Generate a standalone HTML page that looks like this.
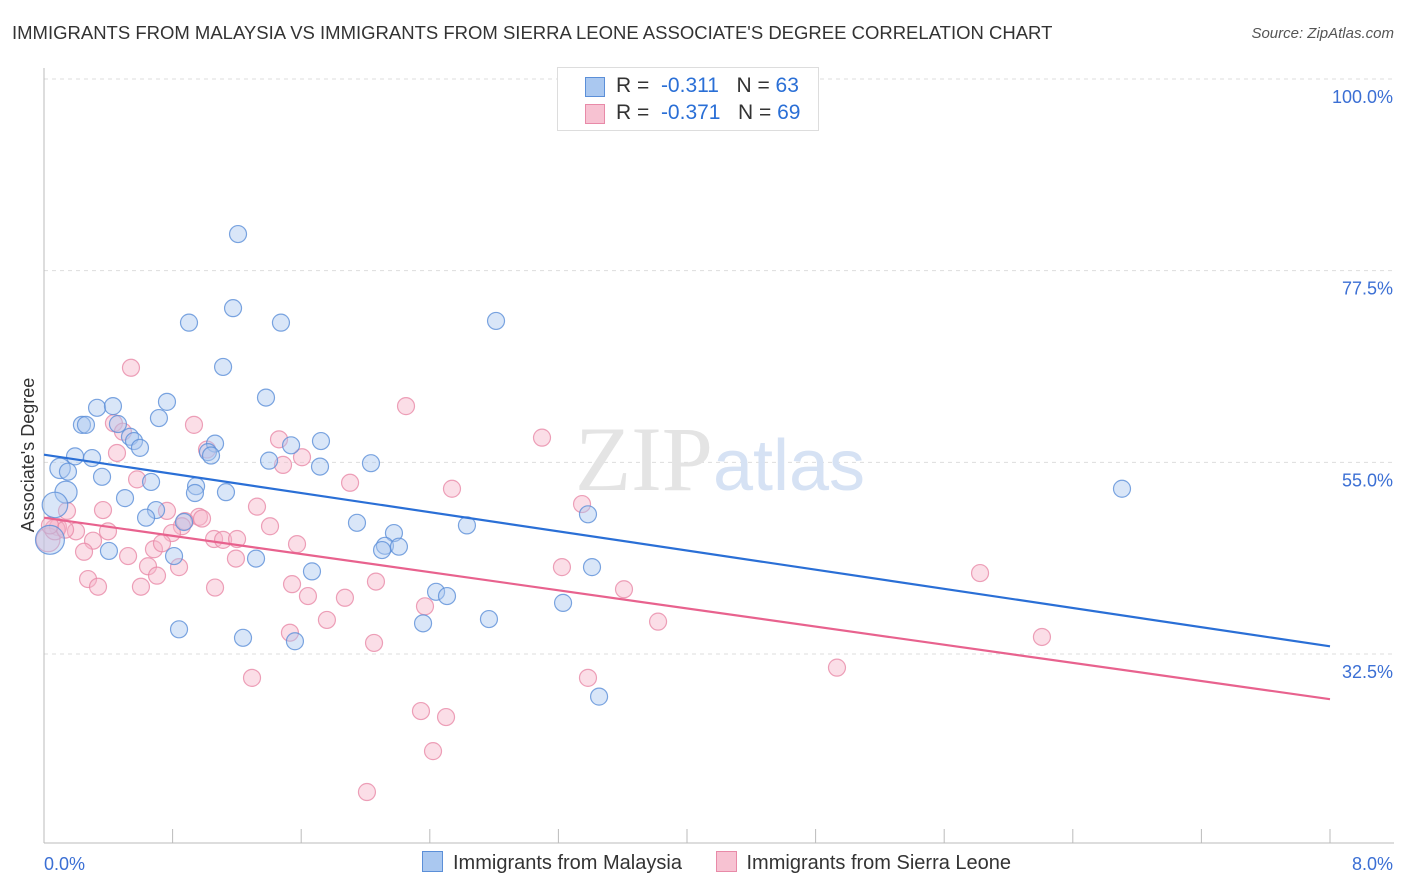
<!DOCTYPE html>
<html><head><meta charset="utf-8">
<style>
body{margin:0;background:#fff;font-family:"Liberation Sans",sans-serif;}
#wrap{position:relative;width:1406px;height:892px;overflow:hidden;}
.t{position:absolute;white-space:nowrap;}
</style></head>
<body>
<div id="wrap">
<div class="t" style="left:12px;top:22px;font-size:18.5px;color:#333;">IMMIGRANTS FROM MALAYSIA VS IMMIGRANTS FROM SIERRA LEONE ASSOCIATE'S DEGREE CORRELATION CHART</div>
<div class="t" style="right:12px;top:25px;font-size:15px;color:#555;font-style:italic;">Source: ZipAtlas.com</div>
<svg id="chart" width="1406" height="892" style="position:absolute;left:0;top:0"></svg>
</div>
<script>
const yTicks=[100,77.5,55,32.5];
const yTickLabels=["100.0%","77.5%","55.0%","32.5%"];
const xEndLabels=["0.0%","8.0%"];
const malaysiaX=[1.207,0.902,1.176,1.474,2.812,1.114,1.381,0.765,0.330,0.429,0.715,0.236,0.261,0.460,0.535,0.560,0.597,1.064,1.020,1.039,1.537,1.723,0.193,0.299,1.400,1.717,2.034,0.100,0.149,0.361,0.666,0.946,1.132,0.504,0.939,0.137,0.068,0.697,0.635,0.871,1.947,2.631,3.384,6.706,2.177,2.121,2.208,2.103,0.404,0.809,1.319,1.667,3.409,2.439,2.507,3.229,2.768,2.358,0.840,1.238,1.561,3.453,0.037];
const malaysiaY=[81.8,71.4,73.1,71.4,71.6,66.2,62.6,62.1,61.4,61.6,60.2,59.4,59.4,59.5,58.0,57.5,56.7,57.2,56.2,55.8,57.0,57.5,55.7,55.5,55.2,54.5,54.9,54.3,53.9,53.3,52.7,52.2,51.5,50.8,51.4,51.5,50.0,49.4,48.5,48.0,47.9,47.6,48.9,51.9,46.7,45.2,45.1,44.7,44.6,44.0,43.7,42.2,42.7,39.8,39.3,38.5,36.6,36.1,35.4,34.4,34.0,27.5,45.9];
const malaysiaSize=[1,1,1,1,1,1,1,1,1,1,1,1,1,1,1,1,1,1,1,1,1,1,1,1,1,1,1,1.2,1,1,1,1,1,1,1,1.3,1.5,1,1,1,1,1,1,1,1,1,1,1,1,1,1,1,1,1,1,1,1,1,1,1,1,1,1.7];
const leoneX=[0.541,2.252,3.098,0.933,0.435,0.491,1.462,1.014,0.454,1.605,1.487,1.904,2.538,0.579,3.347,0.143,0.367,0.765,0.964,0.983,1.325,0.877,0.858,1.406,0.087,0.199,0.796,0.398,1.058,1.114,1.201,1.574,0.305,0.684,0.734,0.249,0.523,1.194,0.647,0.840,3.222,0.703,0.274,5.823,0.336,0.603,1.064,1.543,2.065,3.608,1.642,1.872,2.370,1.760,3.820,1.530,6.208,2.053,4.933,1.294,3.384,2.345,2.501,2.420,2.009,0.025,0.068,0.131,0.037];
const leoneY=[66.1,61.6,57.9,59.4,59.6,58.6,57.7,56.5,56.1,55.6,54.7,52.6,51.9,53.0,50.1,49.3,49.4,49.3,48.6,48.4,49.8,48.1,47.5,47.5,47.4,46.9,46.7,46.9,46.0,45.9,46.0,45.4,45.8,44.8,45.5,44.5,44.0,43.7,42.8,42.7,42.7,41.7,41.3,42.0,40.4,40.4,40.3,40.7,41.0,40.1,39.3,39.1,38.1,36.5,36.3,35.0,34.5,33.8,30.9,29.7,29.7,25.8,25.1,21.1,16.3,45.9,47.1,47.1,47.6];
const leoneSize=[1,1,1,1,1,1,1,1,1,1,1,1,1,1,1,1,1,1,1,1,1,1,1,1,1,1,1,1,1,1,1,1,1,1,1,1,1,1,1,1,1,1,1,1,1,1,1,1,1,1,1,1,1,1,1,1,1,1,1,1,1,1,1,1,1,1.4,1.2,1,1];
const trendMalaysia=[55.9,33.4];
const trendLeone=[48.5,27.2];

const NS="http://www.w3.org/2000/svg";
const svg=document.getElementById('chart');
const X0=44,X1=1330;
function xs(v){return X0+(v/8)*(X1-X0);}
function ys(v){return 79+(100-v)/22.5*191.67;}
function mk(tag,attrs,parent){const e=document.createElementNS(NS,tag);for(const k in attrs)e.setAttribute(k,attrs[k]);(parent||svg).appendChild(e);return e;}

yTicks.forEach((t,i)=>{
  const g=mk('line',{x1:X0,x2:1394,y1:ys(t),y2:ys(t),stroke:'#ddd','stroke-dasharray':'4,4'});
  
  
  const l=mk('text',{x:1393,y:ys(t)+24,'text-anchor':'end','font-size':18,fill:'#3b6fd4','font-family':'Liberation Sans, sans-serif'});
  l.textContent=yTickLabels[i];
  
  
});
const ax=mk('line',{x1:X0,x2:X0,y1:68,y2:843,stroke:'#bbb'});


const bx=mk('line',{x1:X0,x2:1394,y1:843,y2:843,stroke:'#bbb'});


for(let i=0;i<=10;i++){
  const tk=mk('line',{x1:xs(i*0.8),x2:xs(i*0.8),y1:829,y2:843,stroke:'#bbb'});
  
  
}
[[0,'start'],[8,'end']].forEach((p,i)=>{
  const t=mk('text',{x:i?1393:44,y:870,'text-anchor':p[1],'font-size':18,fill:'#3b6fd4','font-family':'Liberation Sans, sans-serif'});
  t.textContent=xEndLabels[i];
  
  
});
const yt=mk('text',{x:34,y:455,transform:'rotate(-90 34 455)','text-anchor':'middle','font-size':18,fill:'#333','font-family':'Liberation Sans, sans-serif'});
yt.textContent="Associate's Degree";



const wm=mk('text',{x:720,y:490,'text-anchor':'middle','font-size':92,'font-family':'Liberation Serif, serif',fill:'#e4e4e4'});
wm.innerHTML='ZIP<tspan font-family="Liberation Sans, sans-serif" font-size="72" fill="#d6e2f4">atlas</tspan>';



function pts(X,Y,S,fill,stroke,name){
  X.forEach((x,i)=>{
    const c=mk('circle',{cx:xs(x),cy:ys(Y[i]),r:8.5*S[i],fill:fill,'fill-opacity':0.45,stroke:stroke,'stroke-width':1.2,'stroke-opacity':0.8});
    
    
  });
}
pts(leoneX,leoneY,leoneSize,'#f7b6c9','#e88aa8','point-sierra-leone');
pts(malaysiaX,malaysiaY,malaysiaSize,'#aac8f0','#5b8fd8','point-malaysia');
const tb=mk('line',{x1:xs(0),y1:ys(trendMalaysia[0]),x2:xs(8),y2:ys(trendMalaysia[1]),stroke:'#2a6fd6','stroke-width':2.2});


const tp=mk('line',{x1:xs(0),y1:ys(trendLeone[0]),x2:xs(8),y2:ys(trendLeone[1]),stroke:'#e8628e','stroke-width':2.2});


</script>
<div style="position:absolute;left:557px;top:67px;width:260px;height:62px;border:1px solid #ddd;background:#fff;font-size:21px;color:#333;">
  <div style="position:absolute;left:28px;top:6px;white-space:nowrap;"><span style="position:absolute;left:-1px;top:3px;width:18px;height:18px;background:#aac8f0;border:1px solid #5b8fd8;"></span><span style="margin-left:30px">R = &nbsp;<span style="color:#2a6fd6">-0.311</span> &nbsp;&nbsp;N = <span style="color:#2a6fd6">63</span></span></div>
  <div style="position:absolute;left:28px;top:33px;white-space:nowrap;"><span style="position:absolute;left:-1px;top:3px;width:18px;height:18px;background:#f7c2d2;border:1px solid #e88aa8;"></span><span style="margin-left:30px">R = &nbsp;<span style="color:#2a6fd6">-0.371</span> &nbsp;&nbsp;N = <span style="color:#2a6fd6">69</span></span></div>
</div>
<div style="position:absolute;left:422px;top:851px;font-size:20px;color:#333;white-space:nowrap;">
  <span><span style="display:inline-block;width:19px;height:19px;background:#aac8f0;border:1px solid #5b8fd8;vertical-align:-3px;margin-right:10px;"></span>Immigrants from Malaysia</span>
  <span style="margin-left:28px"><span style="display:inline-block;width:19px;height:19px;background:#f7c2d2;border:1px solid #e88aa8;vertical-align:-3px;margin-right:10px;"></span>Immigrants from Sierra Leone</span>
</div>
</body></html>
